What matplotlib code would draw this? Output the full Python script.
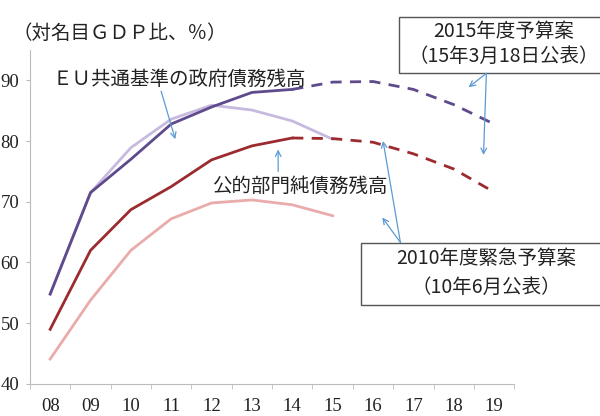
import matplotlib
matplotlib.use("Agg")
import matplotlib.pyplot as plt
from matplotlib.patches import Rectangle
import numpy as np

plt.rcParams['font.family'] = ['Noto Sans CJK JP', 'DejaVu Sans']

# Data (% of nominal GDP)
years = ['08', '09', '10', '11', '12', '13', '14', '15', '16', '17', '18', '19']
eu_2015 = [54.8, 71.5, 77.0, 82.8, 85.6, 88.0, 88.5, 89.7, 89.8, 88.5, 86.0, 82.8]
eu_2010 = [54.8, 71.5, 78.9, 83.6, 85.9, 85.1, 83.3, 80.3]
net_2015 = [49.0, 62.0, 68.7, 72.5, 76.9, 79.2, 80.5, 80.4, 79.8, 77.9, 75.4, 71.6]
net_2010 = [44.1, 53.8, 62.0, 67.2, 69.8, 70.3, 69.5, 67.7]

x = np.arange(len(years))
split = 7  # up to '14' actual, then plan (dashed)

fig = plt.figure(figsize=(6, 4.16), dpi=100)
ax = fig.add_axes([0.05, 0.077, 0.807, 0.803])

c_eu = '#5e4a8c'
c_eu_old = '#c8b9de'
c_net = '#9b2b2f'
c_net_old = '#eaabab'
lw = 2.0
dash = (0, (4, 3))

ax.plot(x[:len(eu_2010)], eu_2010, color=c_eu_old, lw=lw)
ax.plot(x[:len(net_2010)], net_2010, color=c_net_old, lw=lw)
ax.plot(x[:split], eu_2015[:split], color=c_eu, lw=lw)
ax.plot(x[split - 1:], eu_2015[split - 1:], color=c_eu, lw=lw, ls=dash)
ax.plot(x[:split], net_2015[:split], color=c_net, lw=lw)
ax.plot(x[split - 1:], net_2015[split - 1:], color=c_net, lw=lw, ls=dash)

ax.set_xlim(-0.5, 11.5)
ax.set_ylim(40, 95)
ax.set_yticks([40, 50, 60, 70, 80, 90])
ax.set_xticks(x)
ax.set_xticklabels(years)
ax.set_xticks(np.arange(-0.5, 12, 1), minor=True)
ax.tick_params(axis='x', which='major', length=0, pad=10)
ax.tick_params(axis='x', which='minor', length=3.5, color='#bbbbbb')
ax.tick_params(axis='y', length=3, color='#bbbbbb', pad=4.8)
for lab in ax.get_xticklabels() + ax.get_yticklabels():
    lab.set_family('Liberation Serif')
    lab.set_fontsize(13.5)
    lab.set_color('#222222')
for s in ['top', 'right']:
    ax.spines[s].set_visible(False)
for s in ['left', 'bottom']:
    ax.spines[s].set_color('#bbbbbb')

fig.text(0.02, 0.92, '（対名目ＧＤＰ比、％）', fontsize=14, color='#222222', va='center')

fs = 14
txt = '#222222'
arrow = dict(arrowstyle='->', color='#5b9bd5', lw=0.9, shrinkA=0, shrinkB=0)

ax.text(0.05, 90.2, 'ＥＵ共通基準の政府債務残高', fontsize=fs, color=txt, va='center')
ax.annotate('', xy=(3.1, 80.3), xytext=(2.75, 88.2), arrowprops=arrow)

ax.text(4.02, 72.5, '公的部門純債務残高', fontsize=fs, color=txt, va='center')
ax.annotate('', xy=(5.65, 78.6), xytext=(5.65, 75.0), arrowprops=arrow)

# 2015 budget box
ax.add_patch(Rectangle((8.656, 91.15), 5.2, 9.35, fc='white', ec='#555555', lw=1,
                       clip_on=False, zorder=3))
ax.text(11.24, 98.0, '2015年度予算案', fontsize=fs, color=txt, ha='center', va='center',
        zorder=4, clip_on=False)
ax.text(11.24, 93.9, '（15年3月18日公表）', fontsize=fs, color=txt, ha='center', va='center',
        zorder=4, clip_on=False)
ax.annotate('', xy=(10.37, 88.85), xytext=(10.81, 91.15), annotation_clip=False, arrowprops=arrow)
ax.annotate('', xy=(10.74, 77.7), xytext=(10.81, 91.15), annotation_clip=False, arrowprops=arrow)

# 2010 emergency budget box
ax.add_patch(Rectangle((7.71, 52.95), 6.2, 10.33, fc='white', ec='#555555', lw=1,
                       clip_on=False, zorder=3))
ax.text(10.8, 60.6, '2010年度緊急予算案', fontsize=fs, color=txt, ha='center', va='center',
        zorder=4, clip_on=False)
ax.text(10.8, 55.9, '（10年6月公表）', fontsize=fs, color=txt, ha='center', va='center',
        zorder=4, clip_on=False)
ax.annotate('', xy=(8.23, 67.4), xytext=(8.68, 63.3), annotation_clip=False, arrowprops=arrow)
ax.annotate('', xy=(8.25, 80.0), xytext=(8.68, 63.3), annotation_clip=False, arrowprops=arrow)

fig.savefig('out.png', dpi=100)
